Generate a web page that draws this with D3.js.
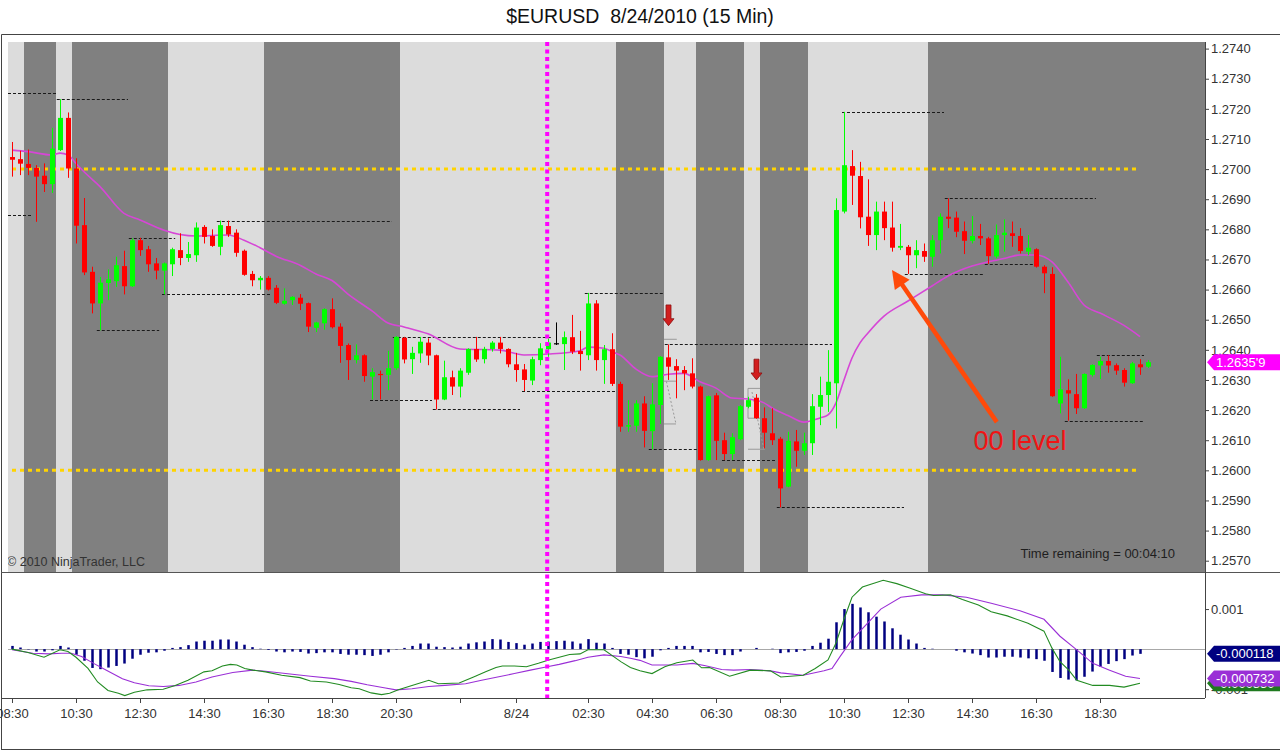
<!DOCTYPE html>
<html>
<head>
<meta charset="utf-8">
<script src="https://cdnjs.cloudflare.com/ajax/libs/d3/7.8.5/d3.min.js"></script>
<style>
body { margin: 0; background: #fff; }
svg { display: block; font-family: "Liberation Sans", Arial, sans-serif; }
</style>
</head>
<body>
<svg id="chart"></svg>
<script>
// ---------------------------- DATA -----------------------------------

// 15 min bars, bar 0 = 8/23 08:30
const opens = [
1.27040,1.27033,1.27017,1.27004,1.26978,1.26950,1.27063,1.27170,1.27002,1.26814,
1.26659,1.26554,1.26622,1.26628,1.26678,1.26611,1.26764,1.26734,1.26687,1.26663,
1.26684,1.26731,1.26705,1.26714,1.26808,1.26778,1.26742,1.26811,1.26789,1.26729,
1.26652,1.26631,1.26639,1.26606,1.26553,1.26565,1.26573,1.26555,1.26473,1.26488,
1.26535,1.26477,1.26416,1.26366,1.26382,1.26311,1.26320,1.26317,1.26339,1.26440,
1.26369,1.26388,1.26424,1.26382,1.26235,1.26309,1.26278,1.26324,1.26403,1.26369,
1.26403,1.26424,1.26403,1.26352,1.26335,1.26298,1.26366,1.26402,1.26422,1.26419,
1.26442,1.26396,1.26382,1.26554,1.26366,1.26402,1.26287,1.26145,1.26148,1.26222,
1.26130,1.26217,1.26375,1.26346,1.26333,1.26322,1.26278,1.26034,1.26249,1.26100,
1.26054,1.26103,1.26211,1.26241,1.26173,1.26123,1.26105,1.25946,1.26096,1.26065,
1.26090,1.26211,1.26250,1.26289,1.26859,1.27010,1.26977,1.26842,1.26781,1.26859,
1.26806,1.26739,1.26742,1.26714,1.26728,1.26709,1.26764,1.26842,1.26839,1.26794,
1.26762,1.26778,1.26770,1.26710,1.26781,1.26787,1.26778,1.26726,1.26734,1.26676,
1.26652,1.26222,1.26266,1.26253,1.26206,1.26317,1.26348,1.26363,1.26349,1.26333,
1.26289,1.26352,1.26344];

const highs = [
1.27090,1.27061,1.27065,1.27013,1.27019,1.27137,1.27232,1.27188,1.27036,1.26904,
1.26676,1.26642,1.26667,1.26709,1.26729,1.26770,1.26772,1.26745,1.26705,1.26690,
1.26739,1.26787,1.26758,1.26823,1.26814,1.26800,1.26829,1.26829,1.26800,1.26733,
1.26662,1.26645,1.26645,1.26615,1.26604,1.26578,1.26585,1.26557,1.26493,1.26538,
1.26571,1.26488,1.26421,1.26418,1.26385,1.26339,1.26331,1.26397,1.26446,1.26443,
1.26410,1.26443,1.26438,1.26384,1.26364,1.26331,1.26339,1.26405,1.26443,1.26410,
1.26429,1.26443,1.26405,1.26390,1.26353,1.26377,1.26422,1.26438,1.26491,1.26461,
1.26516,1.26463,1.26589,1.26565,1.26416,1.26455,1.26294,1.26233,1.26233,1.26246,
1.26289,1.26379,1.26418,1.26369,1.26346,1.26372,1.26281,1.26248,1.26257,1.26125,
1.26123,1.26217,1.26244,1.26253,1.26209,1.26206,1.26111,1.26128,1.26134,1.26125,
1.26253,1.26311,1.26399,1.26903,1.27190,1.27063,1.27024,1.26966,1.26892,1.26892,
1.26892,1.26818,1.26748,1.26764,1.26753,1.26781,1.26853,1.26903,1.26859,1.26826,
1.26844,1.26818,1.26775,1.26816,1.26833,1.26826,1.26804,1.26781,1.26737,1.26681,
1.26674,1.26377,1.26302,1.26320,1.26322,1.26352,1.26377,1.26382,1.26355,1.26339,
1.26360,1.26369,1.26366];

const lows = [
1.26975,1.26980,1.26980,1.26825,1.26924,1.26921,1.27060,1.26971,1.26753,1.26648,
1.26521,1.26465,1.26565,1.26609,1.26584,1.26609,1.26712,1.26659,1.26634,1.26584,
1.26645,1.26681,1.26692,1.26692,1.26753,1.26742,1.26714,1.26775,1.26709,1.26646,
1.26611,1.26600,1.26597,1.26552,1.26550,1.26549,1.26532,1.26459,1.26459,1.26467,
1.26471,1.26357,1.26300,1.26355,1.26294,1.26235,1.26235,1.26266,1.26333,1.26355,
1.26320,1.26357,1.26349,1.26202,1.26233,1.26250,1.26242,1.26317,1.26360,1.26355,
1.26394,1.26388,1.26342,1.26294,1.26263,1.26283,1.26349,1.26377,1.26416,1.26333,
1.26386,1.26331,1.26366,1.26331,1.26287,1.26280,1.26128,1.26128,1.26128,1.26076,
1.26070,1.26154,1.26300,1.26239,1.26266,1.26272,1.26032,1.26032,1.26034,1.26034,
1.26034,1.26100,1.26206,1.26171,1.26073,1.26084,1.25877,1.25944,1.26012,1.26051,
1.26051,1.26150,1.26194,1.26139,1.26853,1.26881,1.26803,1.26745,1.26731,1.26764,
1.26726,1.26731,1.26652,1.26671,1.26692,1.26676,1.26720,1.26804,1.26774,1.26718,
1.26753,1.26748,1.26685,1.26704,1.26726,1.26742,1.26720,1.26714,1.26673,1.26588,
1.26244,1.26189,1.26165,1.26187,1.26204,1.26311,1.26303,1.26324,1.26317,1.26278,
1.26287,1.26317,1.26340];

const closes = [
1.27031,1.27018,1.27004,1.26975,1.26950,1.27068,1.27170,1.27002,1.26812,1.26657,
1.26554,1.26623,1.26634,1.26681,1.26611,1.26764,1.26731,1.26684,1.26663,1.26687,
1.26734,1.26705,1.26718,1.26806,1.26775,1.26745,1.26814,1.26783,1.26722,1.26649,
1.26631,1.26639,1.26600,1.26556,1.26563,1.26576,1.26553,1.26477,1.26491,1.26535,
1.26475,1.26413,1.26366,1.26382,1.26313,1.26326,1.26317,1.26339,1.26443,1.26368,
1.26390,1.26427,1.26381,1.26235,1.26309,1.26278,1.26331,1.26403,1.26368,1.26403,
1.26424,1.26403,1.26352,1.26333,1.26300,1.26369,1.26405,1.26424,1.26422,1.26442,
1.26394,1.26386,1.26554,1.26366,1.26402,1.26287,1.26145,1.26150,1.26222,1.26131,
1.26219,1.26377,1.26344,1.26331,1.26322,1.26278,1.26034,1.26246,1.26098,1.26054,
1.26110,1.26213,1.26233,1.26173,1.26125,1.26100,1.25940,1.26098,1.26065,1.26090,
1.26213,1.26250,1.26294,1.26864,1.27013,1.26978,1.26840,1.26781,1.26859,1.26804,
1.26739,1.26745,1.26714,1.26731,1.26709,1.26764,1.26842,1.26835,1.26792,1.26762,
1.26778,1.26770,1.26711,1.26781,1.26789,1.26778,1.26728,1.26739,1.26676,1.26654,
1.26246,1.26269,1.26255,1.26206,1.26320,1.26350,1.26363,1.26348,1.26331,1.26291,
1.26355,1.26342,1.26359];

// moving average on price, [bar, price]
const maPoints = [
[0,1.27063],[2,1.27058],[5,1.27047],[6,1.27053],[7,1.27047],[8,1.27019],[9,1.26991],
[11,1.26942],[14,1.26853],[16,1.26831],[19,1.26797],[21,1.26783],[23,1.26778],[27,1.26781],
[29,1.26764],[31,1.26739],[33,1.26711],[36,1.26681],[38,1.26652],[40,1.26630],[42,1.26585],
[45,1.26529],[47,1.26489],[49,1.26476],[52,1.26453],[56,1.26403],[61,1.26399],[64,1.26383],
[67,1.26386],[71,1.26397],[72,1.26409],[74,1.26405],[75,1.26394],[76,1.26383],[78,1.26336],
[80,1.26311],[82,1.26319],[84,1.26322],[86,1.26294],[88,1.26273],[90,1.26240],[92,1.26237],
[94,1.26224],[95,1.26207],[97,1.26182],[99,1.26160],[101,1.26174],[102,1.26184],[103,1.26224],
[104,1.26300],[105,1.26373],[106,1.26423],[107,1.26456],[109,1.26512],[112,1.26562],
[115,1.26612],[117,1.26645],[120,1.26678],[122,1.26692],[124,1.26703],[126,1.26715],
[128,1.26715],[130,1.26692],[132,1.26625],[134,1.26549],[136,1.26522],[139,1.26481],[141,1.26444]];

// MACD panel
const macdPoints = [
[0,0],[2,-0.000085],[4,-0.000203],[6,-0.000017],[7,-0.00006],[8,-0.000203],[9.5,-0.00048],
[10.7,-0.00082],[12,-0.001033],[13.3,-0.001101],[14.1,-0.00116],[15.3,-0.001075],[16.9,-0.001016],
[18.9,-0.001],[20.4,-0.000906],[22,-0.000779],[24,-0.000567],[25,-0.000542],[26.3,-0.000423],
[27.3,-0.000381],[28.1,-0.000398],[29.1,-0.000483],[30.1,-0.000525],[31.7,-0.000567],
[33.7,-0.000652],[36,-0.000711],[37.3,-0.000796],[39.3,-0.000822],[40.9,-0.000881],
[42.4,-0.000966],[43.4,-0.000991],[44.9,-0.001093],[46.2,-0.001135],[47.2,-0.001101],
[48.3,-0.001016],[50,-0.000906],[52.1,-0.000779],[53.3,-0.000864],[55.9,-0.000847],
[57.7,-0.000694],[59.2,-0.000567],[60.5,-0.000457],[61.3,-0.000423],[62.8,-0.000423],
[64.3,-0.00044],[65.8,-0.000355],[67.1,-0.000271],[68.4,-0.000203],[69.7,-0.000136],
[71,-0.000119],[72,-0.000017],[74,-0.000017],[76.1,-0.000313],[77.3,-0.000457],[78.5,-0.00054],
[80,-0.00061],[81.6,-0.00044],[83.1,-0.000339],[85.1,-0.000271],[86.2,-0.000466],[87.2,-0.000457],
[89.7,-0.000678],[92.3,-0.000525],[94.8,-0.000542],[96.1,-0.000694],[98.9,-0.000652],
[100.4,-0.000483],[102,-0.000271],[103,0.000152],[104,0.000745],[105,0.001296],[106.3,0.00155],
[108.9,0.001719],[110.6,0.001635],[112.2,0.001525],[114.2,0.001381],[115.2,0.001338],
[117.3,0.001355],[118.8,0.001237],[120.8,0.001101],[122.4,0.000932],[124.4,0.00083],
[127,0.000644],[129,0.000449],[130,0.000025],[131,-0.000313],[132.1,-0.000525],[133.1,-0.000779],
[135.1,-0.000906],[137.2,-0.000906],[139,-0.000949],[141,-0.00085]];

const signalPoints = [
[0,-0.000017],[2.6,-0.000102],[4.6,-0.000119],[6.2,-0.000102],[7.4,-0.000102],[8.7,-0.000186],
[10.2,-0.000356],[11.8,-0.000525],[13.8,-0.000737],[15.3,-0.000839],[17.1,-0.000915],
[18.9,-0.000932],[20.9,-0.000906],[23,-0.000822],[25,-0.000694],[27.6,-0.000584],[30.1,-0.000525],
[31.7,-0.000551],[34.2,-0.00061],[37.3,-0.000678],[40.3,-0.000737],[42.4,-0.000805],
[44.4,-0.000889],[46.5,-0.000966],[48,-0.001016],[50,-0.000991],[52.1,-0.000932],[54.1,-0.000906],
[56.7,-0.000864],[58.7,-0.000779],[60.7,-0.000694],[62.8,-0.00061],[64.8,-0.000525],
[66.9,-0.00044],[68.4,-0.000381],[70.4,-0.000288],[72,-0.000203],[74,-0.000144],[76.1,-0.000186],
[77.3,-0.000229],[78.5,-0.00028],[80,-0.000398],[83.1,-0.000398],[85.1,-0.000356],
[86.7,-0.000415],[88.7,-0.000508],[90.2,-0.000525],[92.3,-0.000508],[94.8,-0.000542],
[96.1,-0.000593],[98.9,-0.000652],[101.5,-0.000542],[102.5,-0.000483],[103.5,-0.000186],
[105,0.000237],[106.6,0.000576],[108.6,0.000999],[111.1,0.001296],[113.7,0.001355],
[116.3,0.001355],[119.3,0.001296],[122.4,0.001143],[126,0.000957],[129,0.000745],[131,0.000322],
[133.1,-0.000017],[135.1,-0.000356],[137.2,-0.000525],[139.2,-0.000678],[141,-0.000732]];

const histogram = [
0.00008,0.00004,-0.00001,-0.00006,-0.00006,-0.00003,0.00008,0.00004,-0.00014,-0.00029,
-0.00047,-0.00050,-0.00046,-0.00042,-0.00036,-0.00024,-0.00014,-0.00009,-0.00008,-0.00004,
0.00003,0.00005,0.00010,0.00019,0.00021,0.00021,0.00024,0.00024,0.00019,0.00011,
0.00005,0.00001,-0.00002,-0.00006,-0.00008,-0.00006,-0.00007,-0.00011,-0.00010,-0.00008,
-0.00008,-0.00012,-0.00014,-0.00014,-0.00015,-0.00017,-0.00014,-0.00008,-0.00001,0.00003,
0.00008,0.00014,0.00014,0.00006,0.00005,0.00004,0.00006,0.00014,0.00017,0.00019,
0.00025,0.00024,0.00018,0.00015,0.00011,0.00014,0.00018,0.00019,0.00020,0.00021,
0.00019,0.00014,0.00025,0.00016,0.00014,0.00003,-0.00012,-0.00014,-0.00020,-0.00023,
-0.00019,-0.00003,0.00003,0.00008,0.00008,0.00008,-0.00008,-0.00007,-0.00012,-0.00015,
-0.00015,-0.00006,0.00000,0.00003,0.00000,0.00001,-0.00010,-0.00008,-0.00007,-0.00004,
0.00008,0.00016,0.00026,0.00067,0.00100,0.00113,0.00104,0.00092,0.00081,0.00069,
0.00052,0.00036,0.00024,0.00014,0.00003,0.00001,0.00000,0.00000,-0.00004,-0.00008,
-0.00011,-0.00015,-0.00021,-0.00021,-0.00019,-0.00019,-0.00021,-0.00023,-0.00025,-0.00029,
-0.00057,-0.00072,-0.00076,-0.00078,-0.00069,-0.00056,-0.00044,-0.00037,-0.00030,-0.00025,
-0.00016,-0.000118];

// background shading, [first bar, last bar, type]
const bands = [
[0,1,'light'],[2,5,'dark'],[6,7,'light'],[8,19,'dark'],[20,31,'light'],[32,48,'dark'],
[49,75,'light'],[76,81,'dark'],[82,85,'light'],[86,91,'dark'],[92,93,'light'],[94,99,'dark'],
[100,114,'light'],[115,150,'dark']];

// dashed swing lines, [start bar, end bar, price]
const swingLines = [
[-0.5,5.5,1.27252],[5.6,14.5,1.27232],[-0.5,2.5,1.26848],[14.6,20.4,1.26770],[25.6,47.5,1.26829],
[18.75,32.5,1.26584],[10.6,18.4,1.26465],[47.6,67.5,1.26443],[44.75,52.5,1.26235],[52.6,63.5,1.26202],
[71.6,81.5,1.26589],[63.75,75.5,1.26263],[79.6,85.6,1.26070],[81.6,102.5,1.26418],[88.75,95.5,1.26034],
[95.6,111.5,1.25877],[103.75,116.5,1.27190],[116.6,135.5,1.26903],[111.6,121.5,1.26652],
[121.6,127.6,1.26684],[135.6,141.5,1.26382],[131.6,141.5,1.26165]];

// small grey pattern marks, [bar1, price1, bar2, price2, dotted]
const patternMarks = [
[81.5,1.26435,83.1,1.26435,0],[81.5,1.26296,83.1,1.26296,0],[81.8,1.26295,83.0,1.26154,1],
[81.5,1.26154,83.0,1.26154,0],[92,1.26272,93.5,1.26272,0],[92,1.26173,93.5,1.26173,0],
[92,1.26272,92,1.26173,0],[92.5,1.26260,94,1.26067,1],[92,1.26070,94.1,1.26070,0]];

const sellArrows = [{bar: 82, top: 1.26549, tip: 1.26480}, {bar: 93, top: 1.26369, tip: 1.26300}];

const roundLevels = [1.2700, 1.2600];
const roundLevelFrom = 0, roundLevelTo = 140.6;
const sessionBreakBar = 66.9;

const noteArrow = {from: [123.1, 1.26160], to: [110, 1.26665]};
const noteText = {bar: 126, price: 1.26066, text: '00 level'};

const priceTicks = [1.2570,1.2580,1.2590,1.2600,1.2610,1.2620,1.2630,1.2640,1.2650,
1.2660,1.2670,1.2680,1.2690,1.2700,1.2710,1.2720,1.2730,1.2740];
const macdTicks = [0.001, -0.001];
const timeTickBars = [0,8,16,24,32,40,48,56,63,72,80,88,96,104,112,120,128,136];
const timeTickLabels = ['08:30','10:30','12:30','14:30','16:30','18:30','20:30','','8/24',
'02:30','04:30','06:30','08:30','10:30','12:30','14:30','16:30','18:30'];

// ---------------------------- CHART -----------------------------------

const width = 1280;
const height = 751;
const svg = d3.select('#chart')
.attr('width', width)
.attr('height', height);

const plotLeft = 8, plotRight = 1205;
const priceTop = 42, priceBottom = 572;
const macdTop = 573, macdBottom = 698;

const x = d3.scaleLinear().domain([-0.5, 149.125]).range([plotLeft, plotRight]);
const y = d3.scaleLinear().domain([1.2570, 1.2740]).range([560.7, 48.6]);
const yMacd = d3.scaleLinear().domain([-0.00122, 0.0019]).range([macdBottom, macdTop]);
const px = v => Math.round(x(v));

svg.append('defs').append('clipPath').attr('id', 'priceClip')
.append('rect')
.attr('x', plotLeft).attr('y', priceTop)
.attr('width', plotRight - plotLeft).attr('height', priceBottom - priceTop);

// title
svg.append('text')
.attr('x', 640).attr('y', 23)
.attr('text-anchor', 'middle')
.attr('font-size', 19.5)
.attr('fill', '#111')
.style('white-space', 'pre')
.text('$EURUSD  8/24/2010 (15 Min)');

const price = svg.append('g').attr('clip-path', 'url(#priceClip)');

price.selectAll('rect.band')
.data(bands)
.enter()
.append('rect')
.attr('x', d => x(d[0] - 0.5))
.attr('width', d => x(d[1] + 0.5) - x(d[0] - 0.5))
.attr('y', priceTop)
.attr('height', priceBottom - priceTop)
.attr('fill', d => d[2] === 'dark' ? '#808080' : '#dcdcdc');

// 00 levels
price.selectAll('line.level')
.data(roundLevels)
.enter()
.append('line')
.attr('x1', x(roundLevelFrom)).attr('x2', x(roundLevelTo))
.attr('y1', d => y(d)).attr('y2', d => y(d))
.attr('stroke', '#ffd400')
.attr('stroke-width', 3)
.attr('stroke-dasharray', '4,4');

price.selectAll('line.swing')
.data(swingLines)
.enter()
.append('line')
.attr('x1', d => x(d[0])).attr('x2', d => x(d[1]))
.attr('y1', d => Math.round(y(d[2])) + 0.5)
.attr('y2', d => Math.round(y(d[2])) + 0.5)
.attr('stroke', '#1a1a1a')
.attr('stroke-dasharray', '3,2');

price.selectAll('line.mark')
.data(patternMarks)
.enter()
.append('line')
.attr('x1', d => x(d[0])).attr('y1', d => y(d[1]))
.attr('x2', d => x(d[2])).attr('y2', d => y(d[3]))
.attr('stroke', '#9a9a9a')
.attr('stroke-dasharray', d => d[4] ? '2,2' : null);

// moving average
price.append('path')
.datum(maPoints)
.attr('fill', 'none')
.attr('stroke', '#d646d6')
.attr('stroke-width', 1.6)
.attr('d', d3.line().x(d => x(d[0])).y(d => y(d[1])).curve(d3.curveMonotoneX));

// candles
const bars = d3.range(closes.length).map(i => ({i: i, o: opens[i], h: highs[i], l: lows[i], c: closes[i]}));
function candleColor(d) {
if (d.c > d.o) return '#00ff00';
if (d.c < d.o) return '#ff0000';
return '#000000';
}

const candles = price.selectAll('g.candle')
.data(bars)
.enter()
.append('g');

candles.append('line')
.attr('x1', d => px(d.i) + 0.5).attr('x2', d => px(d.i) + 0.5)
.attr('y1', d => y(d.h)).attr('y2', d => y(d.l))
.attr('stroke', candleColor);

candles.append('rect')
.attr('x', d => px(d.i) - 2)
.attr('width', 5)
.attr('y', d => y(Math.max(d.o, d.c)))
.attr('height', d => Math.max(1.2, y(Math.min(d.o, d.c)) - y(Math.max(d.o, d.c))))
.attr('fill', candleColor);

// sell arrows
price.selectAll('path.sell')
.data(sellArrows)
.enter()
.append('path')
.attr('d', d => {
const cx = px(d.bar) + 0.5, t = y(d.top), b = y(d.tip), hb = b - 7;
return `M${cx - 2.5},${t}L${cx + 2.5},${t}L${cx + 2.5},${hb}L${cx + 5.5},${hb}L${cx},${b}L${cx - 5.5},${hb}L${cx - 2.5},${hb}Z`;
})
.attr('fill', '#d21e1e')
.attr('stroke', '#8b1010')
.attr('stroke-width', 0.8);

// note arrow
{
const p0 = [x(noteArrow.from[0]), y(noteArrow.from[1])];
const p1 = [x(noteArrow.to[0]), y(noteArrow.to[1])];
const len = Math.hypot(p1[0] - p0[0], p1[1] - p0[1]);
const ux = (p1[0] - p0[0]) / len, uy = (p1[1] - p0[1]) / len;
const bx = p1[0] - ux * 18, by = p1[1] - uy * 18;
price.append('line')
.attr('x1', p0[0]).attr('y1', p0[1])
.attr('x2', p1[0] - ux * 14).attr('y2', p1[1] - uy * 14)
.attr('stroke', '#ff4a0a')
.attr('stroke-width', 4.5);
price.append('path')
.attr('d', `M${p1[0]},${p1[1]}L${bx - uy * 9},${by + ux * 9}L${bx + uy * 9},${by - ux * 9}Z`)
.attr('fill', '#ff4a0a');
}

price.append('text')
.attr('x', x(noteText.bar)).attr('y', y(noteText.price))
.attr('text-anchor', 'middle')
.attr('font-size', 27)
.attr('fill', '#f01414')
.text(noteText.text);

price.append('text')
.attr('x', 7).attr('y', 566)
.attr('font-size', 12.5)
.attr('fill', '#333')
.text('\u00a9 2010 NinjaTrader, LLC');

price.append('text')
.attr('x', 1175).attr('y', 558)
.attr('text-anchor', 'end')
.attr('font-size', 13)
.attr('fill', '#1e1e1e')
.text('Time remaining = 00:04:10');

// ---------------------------- MACD -----------------------------------

const macd = svg.append('g');

macd.append('line')
.attr('x1', plotLeft).attr('x2', plotRight)
.attr('y1', Math.round(yMacd(0)) + 0.5).attr('y2', Math.round(yMacd(0)) + 0.5)
.attr('stroke', '#a8a8a8');

macd.selectAll('line.hist')
.data(histogram)
.enter()
.append('line')
.attr('x1', (d, i) => px(i) + 0.5).attr('x2', (d, i) => px(i) + 0.5)
.attr('y1', yMacd(0)).attr('y2', d => yMacd(d))
.attr('stroke', '#000080')
.attr('stroke-width', 2.5);

macd.append('path')
.datum(signalPoints)
.attr('fill', 'none')
.attr('stroke', '#9a2fd6')
.attr('stroke-width', 1.1)
.attr('d', d3.line().x(d => x(d[0])).y(d => yMacd(d[1])));

macd.append('path')
.datum(macdPoints)
.attr('fill', 'none')
.attr('stroke', '#228b22')
.attr('stroke-width', 1.1)
.attr('d', d3.line().x(d => x(d[0])).y(d => yMacd(d[1])));

// ---------------------------- FRAME AND AXES -----------------------------------

// session break
svg.append('line')
.attr('x1', x(sessionBreakBar)).attr('x2', x(sessionBreakBar))
.attr('y1', priceTop).attr('y2', macdBottom)
.attr('stroke', '#ff00ff')
.attr('stroke-width', 4)
.attr('stroke-dasharray', '4,3.5');

svg.append('path')
.attr('d', `M1.5,${height - 1.5}V34.5H${width}`)
.attr('fill', 'none').attr('stroke', '#444');
svg.append('line')
.attr('x1', 1).attr('x2', width).attr('y1', priceBottom + 0.5).attr('y2', priceBottom + 0.5)
.attr('stroke', '#555');
svg.append('line')
.attr('x1', 1).attr('x2', width).attr('y1', height - 1.5).attr('y2', height - 1.5)
.attr('stroke', '#444');
svg.append('line')
.attr('x1', plotRight + 0.5).attr('x2', plotRight + 0.5).attr('y1', priceTop).attr('y2', macdBottom)
.attr('stroke', '#444');
svg.append('line')
.attr('x1', 1).attr('x2', plotRight).attr('y1', macdBottom + 0.5).attr('y2', macdBottom + 0.5)
.attr('stroke', '#444');

function styleAxis(g) {
g.select('.domain').remove();
g.selectAll('line').attr('stroke', '#444');
g.selectAll('text').attr('fill', '#333').attr('font-size', 13)
.attr('font-family', '"Liberation Sans", Arial, sans-serif');
}

svg.append('g')
.attr('transform', `translate(${plotRight},0)`)
.call(d3.axisRight(y).tickValues(priceTicks).tickSize(4).tickPadding(2).tickFormat(d => d.toFixed(4)))
.call(styleAxis);

svg.append('g')
.attr('transform', `translate(${plotRight},0)`)
.call(d3.axisRight(yMacd).tickValues(macdTicks).tickSize(4).tickPadding(2).tickFormat(d => d.toFixed(3)))
.call(styleAxis);

svg.append('g')
.attr('transform', `translate(0,${macdBottom})`)
.call(d3.axisBottom(x).tickValues(timeTickBars).tickSize(5).tickPadding(6).tickFormat((d, i) => timeTickLabels[i]))
.call(styleAxis);

// value boxes on the right axis
function valueBox(yv, fill, label) {
const h = 8;
svg.append('path')
.attr('d', `M${plotRight + 2},${yv}L${plotRight + 9},${yv - h}H${width}V${yv + h}H${plotRight + 9}Z`)
.attr('fill', fill);
svg.append('text')
.attr('x', plotRight + 11).attr('y', yv + 4.5)
.attr('font-size', 13)
.attr('fill', '#fff')
.text(label);
}

const lastClose = closes[closes.length - 1];
const lastText = lastClose.toFixed(5);
valueBox(y(lastClose), '#ff00ff', lastText.slice(0, 6) + "'" + lastText.slice(6));

const lastMacd = macdPoints[macdPoints.length - 1][1];
const lastSignal = signalPoints[signalPoints.length - 1][1];
const lastHist = histogram[histogram.length - 1];
valueBox(yMacd(lastMacd), '#1f7a1f', lastMacd.toFixed(6));
valueBox(yMacd(lastHist), '#000080', lastHist.toFixed(6));
valueBox(yMacd(lastSignal), '#9a2fd6', lastSignal.toFixed(6));
</script>
</body>
</html>
